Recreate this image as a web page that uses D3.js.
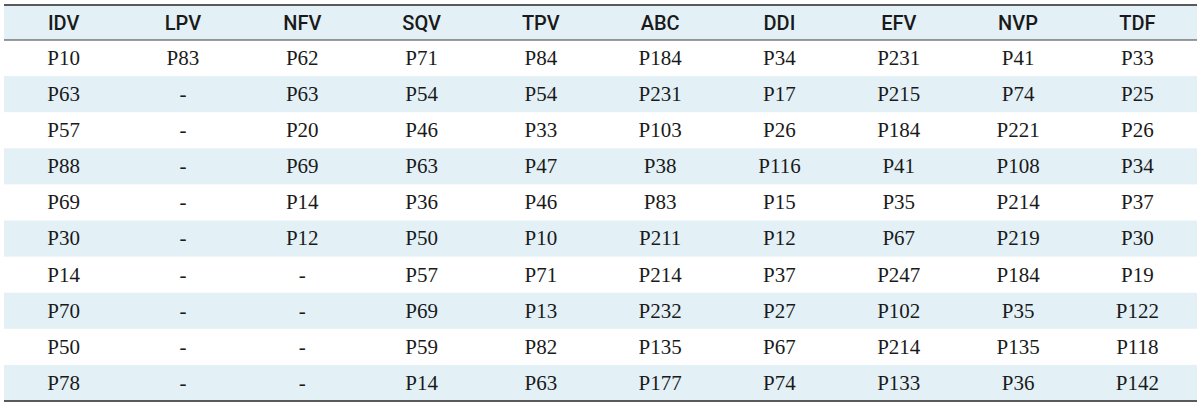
<!DOCTYPE html>
<html>
<head>
<meta charset="utf-8">
<script src="https://cdn.jsdelivr.net/npm/d3@7"></script>
<style>
  body { margin: 0; background: #fff; }
  svg { display: block; }
  .head { font-family: Roboto, "DejaVu Sans", sans-serif; font-weight: 500; font-size: 20px; fill: #1a1a1a; }
  .cell { font-family: "Liberation Serif", "DejaVu Serif", serif; font-size: 21px; fill: #1a1a1a; }
</style>
</head>
<body>
<svg width="1200" height="405"></svg>
<script>
  // drug columns and the positions listed under each
  var drugs = ['IDV', 'LPV', 'NFV', 'SQV', 'TPV', 'ABC', 'DDI', 'EFV', 'NVP', 'TDF'];
  var IDV = ['P10', 'P63', 'P57', 'P88', 'P69', 'P30', 'P14', 'P70', 'P50', 'P78'];
  var LPV = ['P83', '-', '-', '-', '-', '-', '-', '-', '-', '-'];
  var NFV = ['P62', 'P63', 'P20', 'P69', 'P14', 'P12', '-', '-', '-', '-'];
  var SQV = ['P71', 'P54', 'P46', 'P63', 'P36', 'P50', 'P57', 'P69', 'P59', 'P14'];
  var TPV = ['P84', 'P54', 'P33', 'P47', 'P46', 'P10', 'P71', 'P13', 'P82', 'P63'];
  var ABC = ['P184', 'P231', 'P103', 'P38', 'P83', 'P211', 'P214', 'P232', 'P135', 'P177'];
  var DDI = ['P34', 'P17', 'P26', 'P116', 'P15', 'P12', 'P37', 'P27', 'P67', 'P74'];
  var EFV = ['P231', 'P215', 'P184', 'P41', 'P35', 'P67', 'P247', 'P102', 'P214', 'P133'];
  var NVP = ['P41', 'P74', 'P221', 'P108', 'P214', 'P219', 'P184', 'P35', 'P135', 'P36'];
  var TDF = ['P33', 'P25', 'P26', 'P34', 'P37', 'P30', 'P19', 'P122', 'P118', 'P142'];

  (function () {
    var columns = [IDV, LPV, NFV, SQV, TPV, ABC, DDI, EFV, NVP, TDF];
    var rowIdx = d3.range(IDV.length);

    var svg = d3.select('svg');
    var x0 = 4, x1 = 1197, y0 = 5, headH = 35, y1 = 401;

    var x = d3.scaleBand().domain(drugs).range([x0, x1]);
    var y = d3.scaleBand().domain(rowIdx).range([y0 + headH, y1]);

    // header band
    svg.append('rect')
      .attr('x', x0).attr('y', y0)
      .attr('width', x1 - x0).attr('height', headH)
      .attr('fill', '#e3f1f7');

    // striped rows
    svg.selectAll('rect.stripe').data(rowIdx.filter(function (i) { return i % 2 == 1; }))
      .enter().append('rect')
        .attr('class', 'stripe')
        .attr('x', x0).attr('y', function (i) { return y(i); })
        .attr('width', x1 - x0).attr('height', y.bandwidth())
        .attr('fill', '#e3f1f7');

    // rules
    svg.append('line').attr('x1', x0).attr('x2', x1).attr('y1', y0).attr('y2', y0)
      .attr('stroke', '#5a5a5a').attr('stroke-width', 2);
    svg.append('line').attr('x1', x0).attr('x2', x1).attr('y1', y0 + headH).attr('y2', y0 + headH)
      .attr('stroke', '#3a3a3a').attr('stroke-width', 1.2);
    svg.append('line').attr('x1', x0).attr('x2', x1).attr('y1', y1).attr('y2', y1)
      .attr('stroke', '#5a5a5a').attr('stroke-width', 2);

    svg.selectAll('text.head').data(drugs)
      .enter().append('text')
        .attr('class', 'head')
        .attr('x', function (d) { return x(d) + x.bandwidth() / 2; })
        .attr('y', y0 + headH / 2)
        .attr('dy', '0.36em')
        .attr('text-anchor', 'middle')
        .text(function (d) { return d; });

    var cols = svg.selectAll('g.col').data(columns)
      .enter().append('g')
        .attr('class', 'col')
        .attr('transform', function (d, i) { return 'translate(' + (x(drugs[i]) + x.bandwidth() / 2) + ',0)'; });

    cols.selectAll('text').data(function (d) { return d; })
      .enter().append('text')
        .attr('class', 'cell')
        .attr('x', 0)
        .attr('y', function (d, i) { return y(i) + y.bandwidth() / 2; })
        .attr('dy', '0.33em')
        .attr('text-anchor', 'middle')
        .text(function (d) { return d; });
  }());
</script>
</body>
</html>
